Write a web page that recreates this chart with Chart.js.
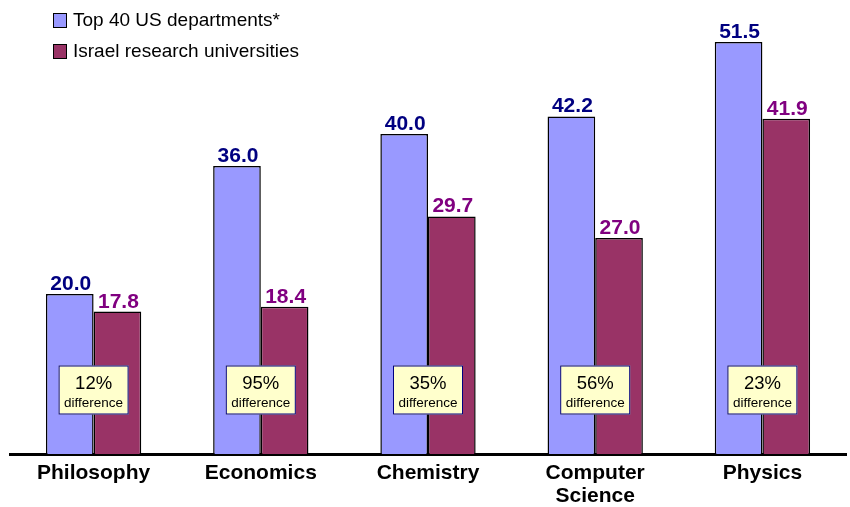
<!DOCTYPE html>
<html>
<head>
<meta charset="utf-8">
<script src="https://cdn.jsdelivr.net/npm/chart.js@4.4.1/dist/chart.umd.min.js"></script>
<style>
  html, body { margin: 0; padding: 0; background: #fff; }
  #wrap { width: 850px; height: 507px; }
</style>
</head>
<body>
<div id="wrap"><canvas id="gapChart"></canvas></div>
<script>
// ---- data ----
const categories = ['Philosophy', 'Economics', 'Chemistry', ['Computer', 'Science'], 'Physics'];
const usValues = [20.0, 36.0, 40.0, 42.2, 51.5];
const israelValues = [17.8, 18.4, 29.7, 27.0, 41.9];
const diffLabels = ['12%', '95%', '35%', '56%', '23%'];
const seriesNames = ['Top 40 US departments*', 'Israel research universities'];

const FONT = '"Liberation Sans", Arial, sans-serif';
const valueColors = ['#000080', '#800080'];

// legend in the top-left corner, stacked
const legendBox = {
    id: 'legendBox',
    afterDraw(chart) {
        const c = chart.ctx;
        c.save();
        c.font = '19px ' + FONT;
        c.textBaseline = 'middle';
        chart.data.datasets.forEach((ds, i) => {
            const y = 20 + i * 31;
            c.fillStyle = ds.backgroundColor;
            c.fillRect(53, y - 7, 14, 15);
            c.strokeStyle = '#000';
            c.lineWidth = 1;
            c.strokeRect(53.5, y - 6.5, 13, 14);
            c.fillStyle = '#000';
            c.fillText(ds.label, 73, y + 1);
        });
        c.restore();
    }
};

// value labels above bars + difference boxes
const barNotes = {
    id: 'barNotes',
    afterDatasetsDraw(chart) {
        const c = chart.ctx;
        const xs = chart.scales.x;
        const ys = chart.scales.y;
        c.save();
        c.font = 'bold 21px ' + FONT;
        c.textAlign = 'center';
        c.textBaseline = 'alphabetic';
        chart.data.datasets.forEach((ds, di) => {
            chart.getDatasetMeta(di).data.forEach((bar, i) => {
                c.fillStyle = valueColors[di];
                c.fillText(ds.data[i].toFixed(1), bar.x + 1, bar.y - 4);
            });
        });

        diffLabels.forEach((txt, i) => {
            const cx = xs.getPixelForValue(i);
            const cy = ys.getPixelForValue(8);
            const w = 70, h = 49;
            c.fillStyle = '#FFFFCC';
            c.fillRect(cx - w / 2, cy - h / 2, w, h);
            c.strokeStyle = '#000080';
            c.lineWidth = 1;
            c.strokeRect(cx - w / 2 + 0.5, cy - h / 2 + 0.5, w - 1, h - 1);
            c.fillStyle = '#000';
            c.font = '18.5px ' + FONT;
            c.fillText(txt, cx, cy - 1);
            c.font = '13.5px ' + FONT;
            c.fillText('difference', cx, cy + 17);
        });
        c.restore();
    }
};

const chart = new Chart(document.getElementById('gapChart'), {
    type: 'bar',
    data: {
        labels: categories,
        datasets: [
            {
                label: seriesNames[0],
                data: usValues,
                backgroundColor: '#9999FF',
                borderColor: '#000',
                borderWidth: 1.5,
                borderSkipped: 'bottom'
            },
            {
                label: seriesNames[1],
                data: israelValues,
                backgroundColor: '#993366',
                borderColor: '#000',
                borderWidth: 1.5,
                borderSkipped: 'bottom'
            }
        ]
    },
    options: {
        responsive: true,
        maintainAspectRatio: false,
        animation: false,
        layout: { padding: { left: 10, right: 4, top: 14, bottom: 0 } },
        datasets: {
            bar: { categoryPercentage: 0.57, barPercentage: 1.0 }
        },
        plugins: {
            legend: { display: false },
            tooltip: { enabled: false }
        },
        scales: {
            x: {
                grid: { display: false, drawTicks: false },
                border: { display: true, color: '#000', width: 3 },
                ticks: {
                    color: '#000',
                    padding: 8,
                    font: { family: FONT, size: 21, weight: 'bold', lineHeight: 1.1 }
                },
                afterFit(scale) { scale.height = 53; }
            },
            y: {
                display: false,
                min: 0,
                max: 55
            }
        }
    },
    plugins: [legendBox, barNotes]
});
</script>
</body>
</html>
